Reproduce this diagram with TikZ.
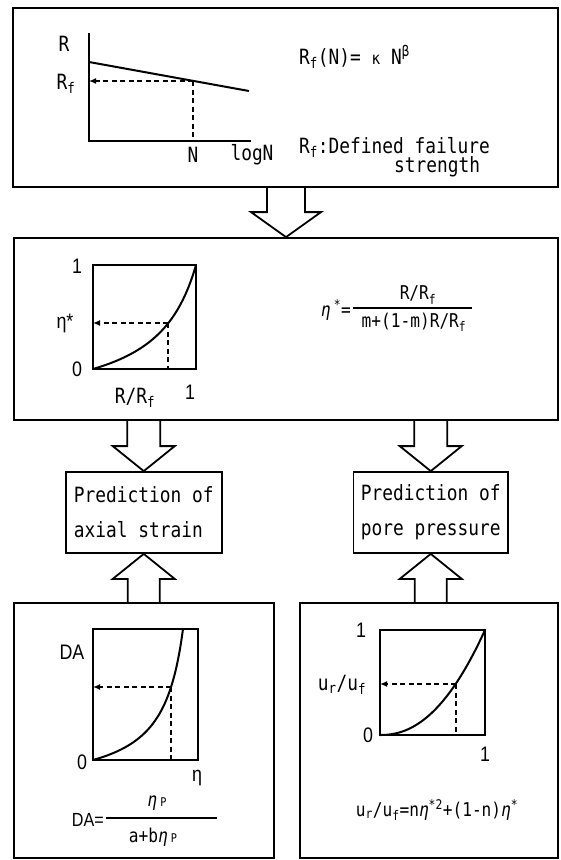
\documentclass[tikz,border=0pt]{standalone}
\usepackage{fontspec}
\setmainfont{DejaVu Sans Mono}[FakeStretch=0.85]
\newfontfamily\numfont{Liberation Sans}[FakeStretch=0.85]
\usetikzlibrary{arrows.meta,calc}

\newcommand\fatarrow[4]{%
  \draw[fatline] let \p1=(#1), \p2=(#2), \n1={ifthenelse(\y2>\y1,1,-1)} in
    ({\x2-#3},\y1) -- ({\x2-#3},{\y2-(\n1)*25pt}) -- ({\x2-#4},{\y2-(\n1)*25pt}) -- (\x2,\y2)
    -- ({\x2+#4},{\y2-(\n1)*25pt}) -- ({\x2+#3},{\y2-(\n1)*25pt}) -- ({\x2+#3},\y1);}

\begin{document}
\begin{tikzpicture}[x=1pt,y=-1pt]
\tikzset{
  panel/.style={draw=black,line width=1.8pt,inner sep=0pt},
  predbox/.style={panel,align=left,inner sep=6pt,minimum width=156pt,minimum height=81pt,font=\fontsize{21}{35}\selectfont},
  lbl/.style={inner sep=0pt,font=\fontsize{21}{24}\selectfont},
  numlbl/.style={inner sep=0pt,font=\numfont\fontsize{21}{24}\selectfont},
  frm/.style={inner sep=0pt,font=\fontsize{19}{22}\selectfont},
  axisline/.style={draw=black,line width=2.2pt,line cap=rect},
  curve/.style={draw=black,line width=2pt},
  guide/.style={draw=black,line width=1.4pt,dash pattern=on 5pt off 3.5pt},
  guidearrow/.style={guide,-{Latex[length=7pt,width=6pt]}},
  fatline/.style={draw=black,line width=1.8pt,line join=miter},
  fracrule/.style={draw=black,line width=1.4pt}
}
\useasboundingbox (0,0) rectangle (561,860);
\node[panel,minimum width=545pt,minimum height=179pt] (box_rate) at (285.5,97.5) {};
\node[panel,minimum width=544pt,minimum height=182pt] (box_eta) at (286,329) {};
\node[predbox] (box_strain) at (143.75,512.5) {Prediction of\\axial strain};
\node[predbox,minimum width=154.5pt] (box_pore) at (430.75,512.5) {Prediction of\\pore pressure};
\node[panel,minimum width=260pt,minimum height=255pt] (box_da) at (144,730.5) {};
\node[panel,minimum width=258pt,minimum height=255pt] (box_pu) at (429,730.5) {};
\fatarrow{box_rate.south}{box_eta.north}{19pt}{35pt}
\fatarrow{box_strain.north |- box_eta.south}{box_strain.north}{16.5pt}{31pt}
\fatarrow{box_pore.north |- box_eta.south}{box_pore.north}{16.5pt}{31pt}
\fatarrow{box_strain.south |- box_da.north}{box_strain.south}{16pt}{31pt}
\fatarrow{box_pore.south |- box_pu.north}{box_pore.south}{16pt}{31pt}
\draw[axisline] (89,34.5) -- (89,141) -- (250,141);
\draw[curve] (89,62) -- (249,91);
\draw[guidearrow] (193,81) -- (89,81);
\draw[guide] (193,81) -- (193,141);
\node[lbl] (lbl_r) at (64,44) {R};
\node[lbl] (lbl_rf) at (66,84) {R\textsubscript{f}};
\node[lbl] (lbl_n) at (193,155) {N};
\node[lbl] (lbl_logn) at (252,155) {logN};
\node[lbl,anchor=west] (txt_law) at (299,57) {R\textsubscript{f}(N)= {\fontsize{17}{17}\selectfont κ} N\textsuperscript{β}};
\node[lbl,anchor=west] (txt_def) at (299,147) {R\textsubscript{f}:Defined failure};
\node[lbl,anchor=west] (txt_str) at (394,167) {strength};
\draw[axisline] (93,265) rectangle (196,369);
\draw[curve] plot[domain=0:1,samples=40,smooth] ({93+103*\x},{369-104*\x/(3.44-2.44*\x)});
\draw[guidearrow] (168,323) -- (93,323);
\draw[guide] (168,323) -- (168,369);
\node[numlbl] (lbl_one_a) at (77,266) {1};
\node[numlbl] (lbl_etastar) at (65,323) {η*};
\node[numlbl] (lbl_zero_a) at (77,369) {0};
\node[lbl] (lbl_ratio) at (135,398) {R/R\textsubscript{f}};
\node[numlbl] (lbl_one_b) at (190,392) {1};
\node[frm,anchor=east] (eta_lhs) at (351,310) {\textit{η}\,\textsuperscript{*}=};
\node[frm] (eta_num) at (418,295) {R/R\textsubscript{f}};
\node[frm] (eta_den) at (414,322) {m+(1-m)R/R\textsubscript{f}};
\draw[fracrule] (353,308) -- (472,308);
\draw[axisline] (93,629) rectangle (198,760);
\draw[curve] plot[domain=0:1,samples=40,smooth] ({93+90*\x},{760-131*0.193*\x/(1-0.807*\x)});
\draw[guidearrow] (171,687) -- (93,687);
\draw[guide] (171,687) -- (171,760);
\node[numlbl] (lbl_da) at (72,652) {DA};
\node[numlbl] (lbl_zero_c) at (82,762) {0};
\node[numlbl] (lbl_eta) at (197,778) {η};
\node[frm,anchor=east,font=\numfont\fontsize{19}{22}\selectfont] (da_lhs) at (104,820) {DA=};
\node[frm] (da_num) at (157,803) {\textit{η}\,{\fontsize{12}{12}\selectfont P}};
\node[frm] (da_den) at (153,837) {a+b\textit{η}\,{\fontsize{12}{12}\selectfont P}};
\draw[fracrule] (106,818) -- (217,818);
\draw[axisline] (380,630) rectangle (485,735);
\draw[curve] plot[domain=0:1,samples=40,smooth] ({380+105*\x},{735-105*\x^2.2});
\draw[guidearrow] (456,684) -- (380,684);
\draw[guide] (456,684) -- (456,735);
\node[numlbl] (lbl_one_c) at (361,630) {1};
\node[lbl] (lbl_uratio) at (342,685) {u\textsubscript{r}/u\textsubscript{f}};
\node[numlbl] (lbl_zero_d) at (368,735) {0};
\node[numlbl] (lbl_one_d) at (485,754) {1};
\node[frm] (pu_law) at (437,810) {u\textsubscript{r}/u\textsubscript{f}=n\textit{η}\textsuperscript{*2}+(1-n)\textit{η}\textsuperscript{*}};
\end{tikzpicture}
\end{document}
